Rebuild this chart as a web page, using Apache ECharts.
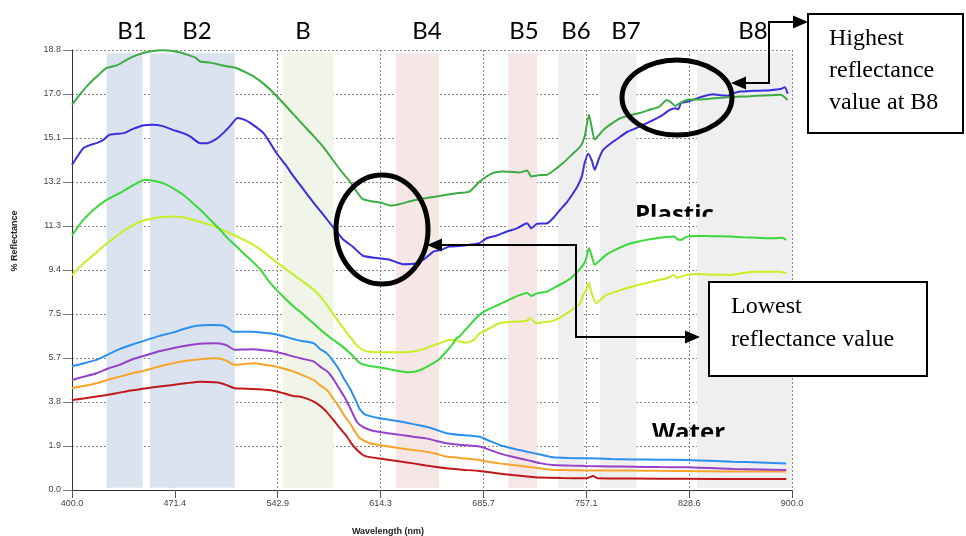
<!DOCTYPE html>
<html>
<head>
<meta charset="utf-8">
<script src="https://cdn.jsdelivr.net/npm/echarts@6/dist/echarts.min.js"></script>
<style>
  html, body { margin: 0; padding: 0; background: #fff; }
  #chart { width: 966px; height: 536px; }
</style>
</head>
<body>
<div id="chart"></div>
<script>
// Reflectance spectra, [wavelength nm, % reflectance]
var plasticA = [[400,16.5],[405,16.9],[412,17.4],[418,17.75],[424,18.07],[431,18.18],[438,18.42],[444,18.6],[450,18.72],[456,18.8],[463,18.83],[470,18.8],[476,18.72],[482,18.6],[486,18.5],[489,18.35],[496,18.3],[503,18.2],[510,18.12],[514,18.07],[520,17.9],[526,17.71],[533,17.4],[540,17.0],[547,16.55],[554,16.07],[561,15.6],[568,15.14],[575,14.65],[581,14.14],[587,13.65],[593,13.21],[598,12.75],[602,12.45],[609,12.35],[615,12.3],[621,12.18],[628,12.25],[637,12.4],[646,12.5],[656,12.6],[666,12.7],[676,12.78],[683,13.2],[692,13.57],[699,13.64],[705,13.62],[711,13.6],[716,13.68],[719,13.42],[724,13.48],[730,13.5],[736,13.75],[741,14.0],[747,14.35],[753,14.71],[756,15.14],[759,16.07],[761,15.5],[763,15.0],[766,15.2],[769,15.42],[775,15.7],[781,15.93],[788,16.05],[794,16.14],[801,16.28],[808,16.42],[813,16.7],[816,16.6],[819,16.45],[823,16.6],[827,16.7],[834,16.72],[841,16.74],[848,16.78],[855,16.82],[862,16.84],[869,16.85],[876,16.88],[884,16.9],[892,16.92],[897,16.7]];
var plasticB = [[400,13.92],[404,14.3],[408,14.64],[413,14.78],[417,14.85],[422,15.0],[426,15.21],[431,15.25],[436,15.28],[442,15.45],[449,15.61],[456,15.64],[463,15.58],[470,15.42],[476,15.3],[482,15.14],[489,14.85],[494,14.85],[500,15.02],[505,15.28],[510,15.6],[515,15.93],[520,15.85],[524,15.71],[533,15.28],[542,14.43],[548,13.95],[554,13.42],[561,12.85],[568,12.28],[575,11.75],[582,11.2],[588,10.75],[595,10.42],[602,10.03],[612,9.93],[621,9.85],[630,9.67],[639,9.71],[645,9.9],[651,10.21],[656,10.28],[662,10.42],[669,10.45],[676,10.5],[683,10.57],[688,10.78],[695,10.9],[702,11.07],[709,11.2],[716,11.42],[719,11.21],[723,11.4],[730,11.42],[735,11.7],[739,12.0],[744,12.35],[748,12.71],[751,13.0],[754,13.42],[756,14.0],[758.5,14.4],[761,14.1],[763,13.71],[766,14.2],[769,14.57],[775,14.88],[781,15.14],[786,15.35],[792,15.5],[798,15.68],[804,15.85],[810,16.05],[815,16.28],[819,16.35],[821,16.3],[823,16.57],[827,16.62],[831,16.7],[838,16.85],[845,16.95],[850,16.9],[855,16.88],[860,17.0],[864,17.06],[871,17.08],[878,17.1],[885,17.12],[892,17.17],[895,17.25],[897,16.97]];
var plasticC = [[400,10.9],[407,11.5],[415,12.0],[424,12.42],[433,12.71],[443,13.07],[451,13.28],[459,13.21],[464,13.12],[470,12.93],[477,12.65],[484,12.28],[490,11.95],[496,11.57],[502,11.2],[507,10.85],[513,10.5],[519,10.14],[525,9.8],[531,9.43],[536,9.0],[542,8.57],[548,8.2],[554,7.85],[560,7.55],[565,7.28],[571,6.95],[577,6.64],[582,6.4],[588,6.14],[594,5.8],[600,5.43],[606,5.32],[612,5.26],[618,5.2],[623,5.14],[628,5.08],[634,5.04],[642,5.14],[651,5.43],[655,5.6],[660,5.93],[664,6.22],[667,6.5],[669,6.57],[676,7.05],[683,7.5],[688,7.7],[695,7.9],[702,8.1],[709,8.3],[716,8.43],[719,8.31],[723,8.42],[730,8.5],[736,8.7],[741,8.86],[746,9.05],[750,9.28],[755,9.64],[757,9.9],[759,10.36],[761,10.0],[763,9.64],[766,9.8],[771,10.07],[778,10.3],[785,10.5],[792,10.62],[799,10.71],[806,10.78],[813,10.83],[818,10.85],[821,10.72],[823,10.71],[827,10.85],[834,10.88],[845,10.87],[857,10.85],[866,10.82],[876,10.8],[887,10.78],[893,10.8],[896,10.71]];
var plasticD = [[400,9.2],[407,9.65],[415,10.07],[422,10.45],[429,10.78],[436,11.1],[443,11.35],[448,11.5],[454,11.6],[461,11.68],[468,11.71],[474,11.7],[480,11.64],[488,11.5],[496,11.35],[504,11.15],[512,10.93],[519,10.72],[526,10.5],[533,10.2],[540,9.85],[547,9.53],[554,9.21],[561,8.9],[568,8.57],[575,8.1],[581,7.57],[587,7.05],[593,6.57],[597,6.25],[600,6.07],[605,5.93],[614,5.9],[623,5.9],[630,5.9],[637,5.93],[642,6.0],[646,6.07],[651,6.2],[656,6.3],[660,6.4],[665,6.43],[670,6.35],[674,6.31],[679,6.43],[683,6.7],[686,6.78],[692,7.0],[697,7.14],[705,7.2],[712,7.22],[716,7.25],[718,7.37],[721,7.2],[723,7.14],[728,7.2],[732,7.21],[738,7.35],[744,7.57],[749,7.8],[753,8.0],[755,8.35],[757,8.55],[759,8.86],[761,8.4],[764,8.0],[767,8.15],[771,8.35],[778,8.5],[785,8.64],[792,8.76],[799,8.86],[806,8.97],[813,9.07],[818,9.21],[820,9.1],[822,9.11],[826,9.2],[834,9.25],[845,9.22],[857,9.21],[865,9.28],[873,9.35],[882,9.34],[892,9.35],[896,9.28]];
var waterA = [[400,5.31],[408,5.42],[417,5.57],[425,5.8],[433,6.03],[442,6.23],[452,6.43],[461,6.6],[470,6.74],[477,6.88],[484,7.0],[491,7.05],[498,7.07],[504,7.05],[508,6.95],[512,6.78],[519,6.78],[526,6.78],[533,6.73],[540,6.68],[547,6.58],[554,6.46],[560,6.38],[568,6.28],[572,6.05],[577,5.85],[581,5.55],[585,5.2],[589,4.75],[593,4.35],[597,3.85],[600,3.45],[604,3.22],[614,3.07],[621,3.0],[628,2.93],[637,2.82],[646,2.71],[653,2.58],[660,2.43],[671,2.35],[683,2.28],[690,2.1],[697,1.93],[706,1.78],[716,1.64],[725,1.52],[734,1.4],[745,1.37],[757,1.36],[774,1.33],[790,1.31],[808,1.3],[827,1.28],[843,1.25],[859,1.21],[878,1.18],[896,1.14]];
var waterB = [[400,4.71],[408,4.85],[417,5.0],[425,5.2],[433,5.36],[442,5.6],[452,5.78],[461,5.95],[470,6.07],[479,6.18],[489,6.26],[500,6.28],[507,6.21],[513,6.0],[520,6.02],[526,6.03],[533,5.98],[540,5.93],[547,5.83],[554,5.71],[560,5.62],[568,5.5],[573,5.25],[577,5.1],[581,4.8],[585,4.4],[590,3.9],[594,3.4],[598,2.9],[602,2.7],[607,2.57],[614,2.48],[621,2.42],[628,2.36],[637,2.28],[646,2.21],[653,2.1],[660,2.0],[671,1.93],[683,1.86],[690,1.72],[697,1.57],[706,1.42],[716,1.28],[725,1.15],[734,1.07],[745,1.05],[757,1.03],[774,1.01],[790,1.0],[808,0.98],[827,0.97],[843,0.94],[859,0.9],[878,0.88],[896,0.86]];
var waterC = [[400,4.36],[408,4.45],[417,4.57],[425,4.72],[433,4.85],[442,5.0],[452,5.14],[461,5.3],[470,5.43],[479,5.53],[489,5.6],[500,5.64],[507,5.54],[513,5.36],[520,5.4],[526,5.43],[533,5.37],[540,5.31],[547,5.2],[554,5.07],[560,4.92],[568,4.71],[572,4.5],[577,4.28],[581,3.95],[585,3.6],[589,3.2],[593,2.86],[597,2.45],[600,2.21],[607,2.0],[614,1.92],[621,1.85],[628,1.79],[637,1.71],[646,1.64],[653,1.55],[660,1.43],[671,1.36],[683,1.28],[690,1.2],[697,1.14],[706,1.07],[716,1.0],[725,0.93],[734,0.86],[745,0.85],[757,0.84],[774,0.84],[790,0.83],[808,0.82],[827,0.81],[843,0.8],[859,0.79],[878,0.79],[896,0.79]];
var waterD = [[400,3.85],[408,3.92],[417,4.0],[425,4.08],[433,4.17],[442,4.27],[452,4.36],[461,4.43],[470,4.5],[479,4.57],[489,4.64],[500,4.61],[507,4.5],[513,4.36],[520,4.34],[530,4.31],[540,4.25],[547,4.14],[554,4.02],[558,4.0],[564,3.89],[570,3.71],[576,3.4],[581.5,3.0],[586,2.65],[591,2.28],[594,2.0],[598,1.71],[602,1.5],[605,1.43],[612,1.36],[618,1.31],[628,1.22],[637,1.14],[646,1.05],[660,0.93],[671,0.87],[683,0.81],[695,0.72],[706,0.64],[716,0.58],[725,0.53],[740,0.51],[757,0.5],[762,0.6],[765,0.5],[790,0.49],[827,0.48],[859,0.47],[896,0.47]];

var lineColors = ['#3dab44', '#3a2fe0', '#3ad83a', '#c6ef24', '#2b8fee', '#9541c8', '#f6a42a', '#c0191c'];

// Sensor band windows (nm) and their shading
var bandRanges = [[424, 449], [454, 513], [546.5, 581.5], [625, 655], [703, 723], [737.5, 755.5], [766.5, 792], [834, 900]];
var bandColors = ['#dae3ef', '#dae3ef', '#f0f4e9', '#f6e6e6', '#f6e6e6', '#efefef', '#efefef', '#efefef'];
var bandNames = ['B1', 'B2', 'B', 'B4', 'B5', 'B6', 'B7', 'B8'];
var bandNameX = [132, 197, 303, 427, 524, 576, 626, 753];

var X0 = 400;          // axis runs in offset nm so ticks start at 0
var xMax = 500;
var xStep = 71.4286;
var yMax = 18.84;
var yStep = 1.884;

function shift(arr) {
    return arr.map(function (p) { return [p[0] - X0, p[1]]; });
}

var chart = echarts.init(document.getElementById('chart'));

var bandAreas = [];
for (var i = 0; i < bandRanges.length; i++) {
    bandAreas.push([
        { xAxis: bandRanges[i][0] - X0, yAxis: 0.1, itemStyle: { color: bandColors[i], opacity: 1 } },
        { xAxis: bandRanges[i][1] - X0, yAxis: 18.7 }
    ]);
}

var allSeries = [plasticA, plasticB, plasticC, plasticD, waterA, waterB, waterC, waterD];
var series = [{
    type: 'line',
    name: 'bands',
    data: [],
    z: 1,
    silent: true,
    markArea: { silent: true, data: bandAreas }
}];
allSeries.slice().reverse().forEach(function (s, k) {
    var idx = allSeries.length - 1 - k;
    series.push({
        type: 'line',
        data: shift(s),
        showSymbol: false,
        smooth: 0.2,
        z: 3,
        lineStyle: { color: lineColors[idx], width: 2 },
        itemStyle: { color: lineColors[idx] }
    });
});

var labelFont = { fontFamily: 'Liberation Sans', fontSize: 9, color: '#444' };

var graphics = [];
bandNames.forEach(function (n, i) {
    graphics.push({
        type: 'text', x: bandNameX[i], y: 31, z: 10,
        style: { text: n, font: '24px Lato', fill: '#000', align: 'center', verticalAlign: 'middle' }
    });
});
// axis titles
graphics.push({
    type: 'text', x: 388, y: 532, z: 10,
    style: { text: 'Wavelength (nm)', font: 'bold 9px "Liberation Sans"', fill: '#222', align: 'center', verticalAlign: 'middle' }
});
graphics.push({
    type: 'text', x: 15, y: 241, rotation: Math.PI / 2, z: 10,
    style: { text: '% Reflectance', font: 'bold 9px "Liberation Sans"', fill: '#222', align: 'center', verticalAlign: 'middle' }
});
// circled regions
graphics.push({
    type: 'ellipse', z: 20, shape: { cx: 677, cy: 97.5, rx: 55, ry: 37.5 },
    style: { fill: 'none', stroke: '#000', lineWidth: 5 }
});
graphics.push({
    type: 'ellipse', z: 20, shape: { cx: 382, cy: 229.5, rx: 46, ry: 54.5 },
    style: { fill: 'none', stroke: '#000', lineWidth: 5 }
});
// connector arrows
graphics.push({
    type: 'polyline', z: 20, shape: { points: [[744, 83], [769, 83], [769, 22], [795, 22]] },
    style: { stroke: '#000', lineWidth: 2, fill: 'none' }
});
graphics.push({ type: 'polygon', z: 20, shape: { points: [[731, 83], [746, 76.5], [746, 89.5]] }, style: { fill: '#000' } });
graphics.push({ type: 'polygon', z: 20, shape: { points: [[808, 22], [793, 15.5], [793, 28.5]] }, style: { fill: '#000' } });
graphics.push({
    type: 'polyline', z: 20, shape: { points: [[440, 245], [576, 245], [576, 337], [687, 337]] },
    style: { stroke: '#000', lineWidth: 2, fill: 'none' }
});
graphics.push({ type: 'polygon', z: 20, shape: { points: [[427, 245], [442, 238.5], [442, 251.5]] }, style: { fill: '#000' } });
graphics.push({ type: 'polygon', z: 20, shape: { points: [[700, 337], [685, 330.5], [685, 343.5]] }, style: { fill: '#000' } });
// callout boxes
graphics.push({
    type: 'rect', z: 20, shape: { x: 808, y: 14, width: 155, height: 119 },
    style: { fill: '#fff', stroke: '#000', lineWidth: 2 }
});
graphics.push({
    type: 'text', z: 21, x: 829, y: 23,
    style: { text: 'Highest\nreflectance\nvalue at B8', font: '24px "Liberation Serif"', lineHeight: 32, fill: '#000', align: 'left', verticalAlign: 'top' }
});
graphics.push({
    type: 'rect', z: 20, shape: { x: 709, y: 282, width: 218, height: 94 },
    style: { fill: '#fff', stroke: '#000', lineWidth: 2 }
});
graphics.push({
    type: 'text', z: 21, x: 731, y: 290.5,
    style: { text: 'Lowest\nreflectance value', font: '24px "Liberation Serif"', lineHeight: 33, fill: '#000', align: 'left', verticalAlign: 'top' }
});

chart.setOption({
    animation: false,
    backgroundColor: '#fff',
    grid: { left: 72, right: 174, top: 50, bottom: 46 },
    xAxis: {
        type: 'value', min: 0, max: xMax, interval: xStep,
        axisLine: { lineStyle: { color: '#333', width: 1 } },
        axisTick: { length: 8, lineStyle: { color: '#555' } },
        axisLabel: Object.assign({ margin: 9, formatter: function (v) { return (v + X0).toFixed(1); } }, labelFont),
        splitLine: { show: true, lineStyle: { type: [2, 2], color: '#888', width: 1 } }
    },
    yAxis: {
        type: 'value', min: 0, max: yMax, interval: yStep,
        axisLine: { show: true, lineStyle: { color: '#333', width: 1 } },
        axisTick: { show: true, length: 9, lineStyle: { color: '#777' } },
        axisLabel: Object.assign({ margin: 11, formatter: function (v) { return v.toFixed(1); } }, labelFont),
        splitLine: { show: true, lineStyle: { type: [2, 2], color: '#888', width: 1 } }
    },
    series: series,
    graphic: graphics
});

// "Plastic" / "Water" labels are cut off at the bottom in the original
var zr = chart.getZr();
function clippedLabel(txt, cx, cy, clipTop, clipBottom) {
    var t = new echarts.graphic.Text({
        style: { text: txt, x: cx, y: cy, font: 'bold 24px "Open Sans"', fill: '#000', align: 'center', verticalAlign: 'middle' },
        z: 30
    });
    t.setClipPath(new echarts.graphic.Rect({ shape: { x: cx - 80, y: clipTop, width: 160, height: clipBottom - clipTop } }));
    zr.add(t);
}
clippedLabel('Plastic', 674.5, 215.2, 190, 216.7);
clippedLabel('Water', 688.5, 433.2, 410, 436.7);
</script>
</body>
</html>
